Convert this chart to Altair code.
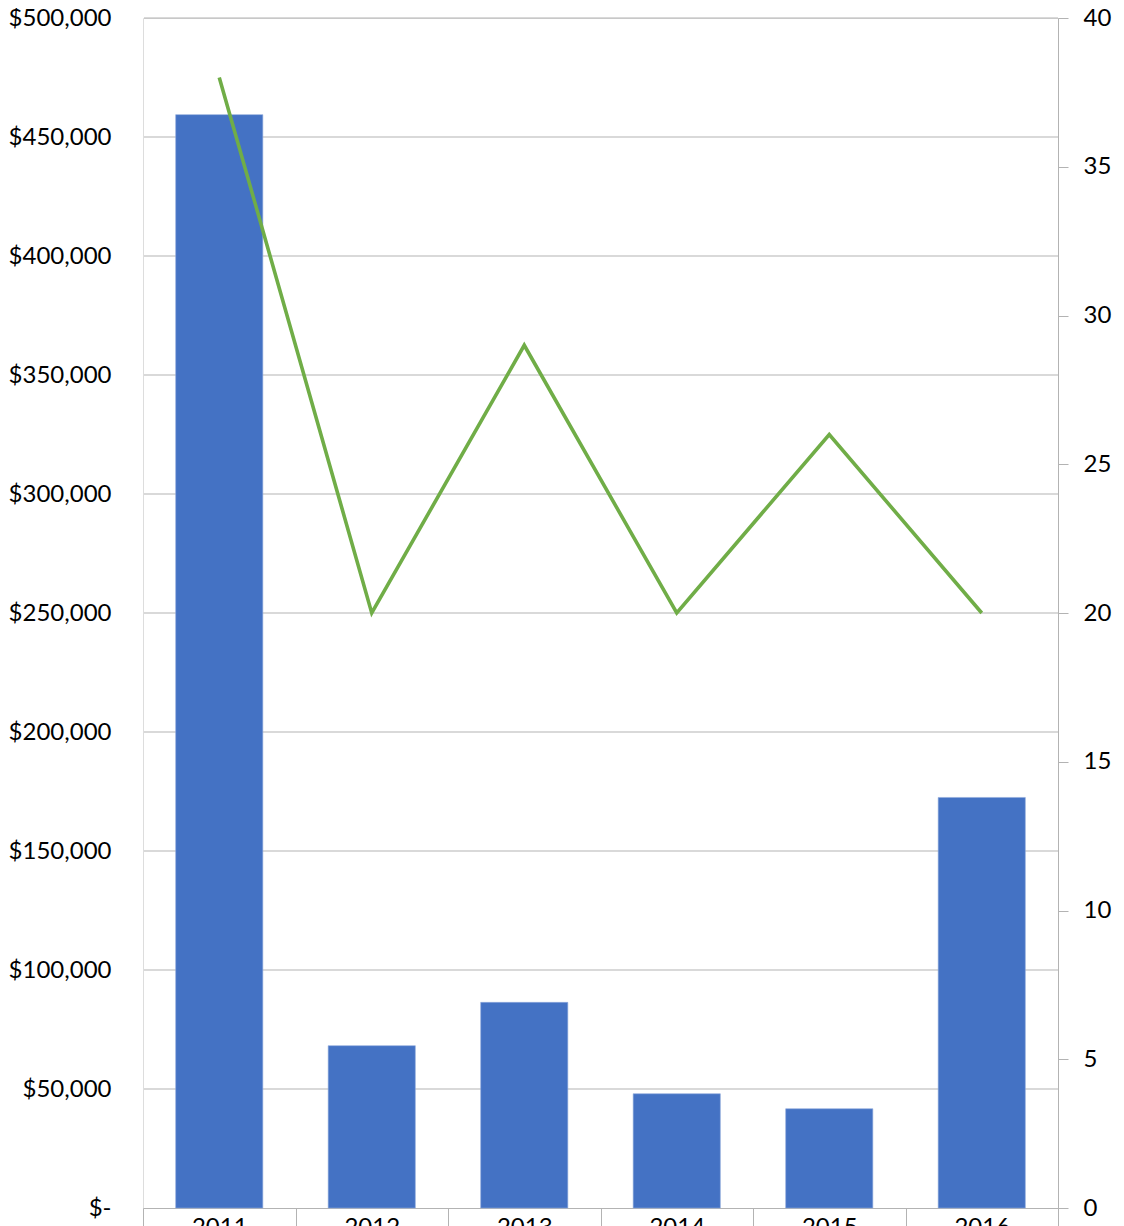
import altair as alt
import pandas as pd

years = ["2011", "2012", "2013", "2014", "2015", "2016"]
amounts = [459400, 68200, 86400, 48000, 41700, 172500]
counts = [38, 20, 29, 20, 26, 20]
left_ticks = [0, 50000, 100000, 150000, 200000, 250000, 300000, 350000, 400000, 450000, 500000]
right_ticks = [0, 5, 10, 15, 20, 25, 30, 35, 40]

df = pd.DataFrame({"year": years, "amount": amounts, "count": counts})
grid_df = pd.DataFrame({"v": left_ticks[1:]})

FONT = "Lato"
GRID = "#B3B3B3"
FS = 24

xaxis = alt.Axis(
    orient="bottom",
    tickBand="extent",
    tickSize=30,
    tickColor=GRID,
    tickWidth=1,
    domain=True,
    domainColor=GRID,
    domainWidth=1,
    labelAngle=0,
    labelFont=FONT,
    labelFontSize=FS,
    labelColor="#000000",
    labelPadding=-23,
    labelBaseline="top",
    grid=False,
)

yscale_left = alt.Scale(domain=[0, 500000], nice=False)

grid = alt.Chart(grid_df).mark_rule(color=GRID, strokeWidth=1).encode(
    x=alt.value(1),
    x2=alt.value(915),
    y=alt.Y("v:Q", scale=yscale_left, axis=None),
    y2=alt.Y2("v:Q"),
)

bars = alt.Chart(df).mark_bar(
    color="#4472C4", stroke="#8FAADC", strokeWidth=0.6,
    width=alt.RelativeBandSize(0.5714),
).encode(
    x=alt.X("year:N", sort=years, title=None,
            scale=alt.Scale(paddingInner=0, paddingOuter=0), axis=xaxis),
    y=alt.Y(
        "amount:Q",
        title=None,
        scale=yscale_left,
        axis=alt.Axis(
            orient="left",
            values=left_ticks,
            labelExpr="datum.value == 0 ? '$-\u00a0\u00a0\u00a0' : '$' + format(datum.value, ',')",
            domain=False,
            ticks=False,
            grid=False,
            labelFont=FONT,
            labelFontSize=FS,
            labelColor="#000000",
            labelPadding=32,
        ),
    ),
)

line = alt.Chart(df).mark_line(
    color="#70AD47", strokeWidth=3.6, strokeJoin="miter", strokeCap="butt"
).encode(
    x=alt.X("year:N", sort=years, title=None, axis=xaxis),
    y=alt.Y(
        "count:Q",
        title=None,
        scale=alt.Scale(domain=[0, 40], nice=False),
        axis=alt.Axis(
            orient="right",
            values=right_ticks,
            domain=True,
            domainColor=GRID,
            domainWidth=1,
            ticks=True,
            tickColor=GRID,
            tickSize=10,
            grid=False,
            labelFont=FONT,
            labelFontSize=FS,
            labelColor="#000000",
            labelPadding=15,
        ),
    ),
)

chart = (
    alt.layer(grid, bars, line)
    .resolve_scale(y="independent")
    .properties(
        width=915,
        height=1190,
        autosize=alt.AutoSizeParams(type="none"),
        padding={"left": 135, "top": 10, "right": 58, "bottom": 40},
    )
    .configure_view(stroke="transparent")
    .configure(background="white")
)

chart.save("out.html", embed_options={"renderer": "svg", "actions": False})
